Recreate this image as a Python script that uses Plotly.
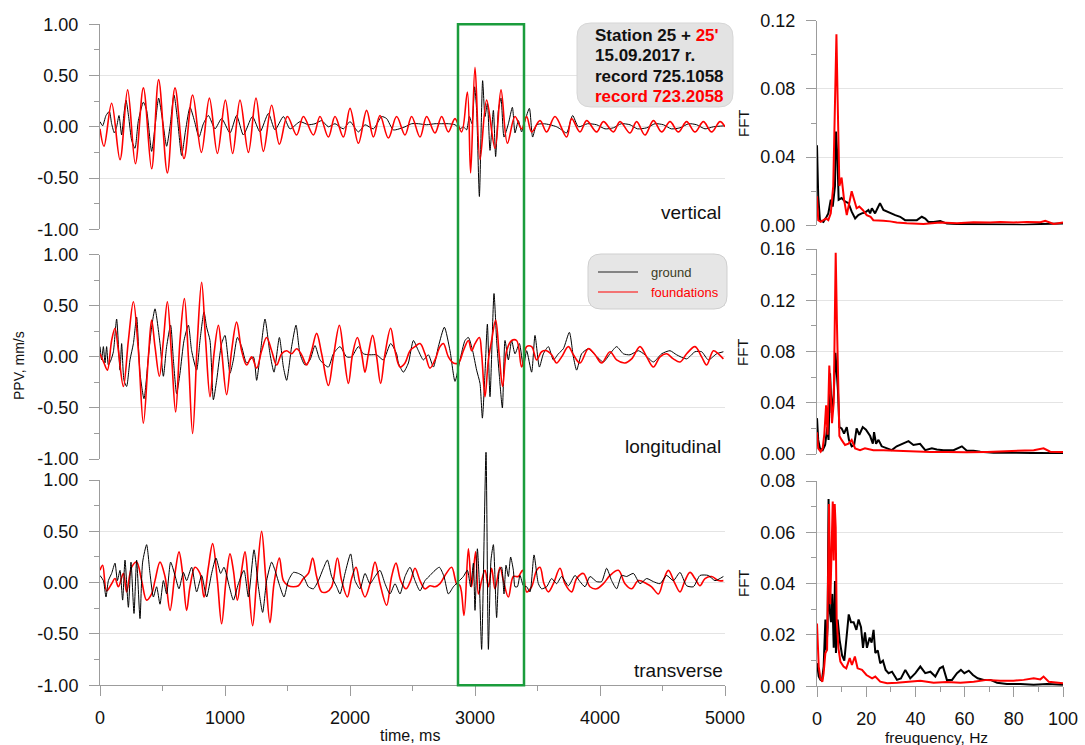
import plotly.graph_objects as go

# ---------------- data ----------------
# time series: (time in ms, PPV in mm/s)
VERT_GROUND = [(0,0.05),(21,0.01),(48,0.11),(75,0.15),(93,0.03),(115,-0.06),(133,0.0),(152,0.11),(173,-0.08),(192,0.13),(208,0.26),(229,0.10),(253,-0.13),(280,-0.21),(307,0.06),(347,0.24),(373,0.16),(413,-0.24),(440,0.0),(469,0.28),(501,0.06),(533,-0.19),(560,0.0),(592,0.31),(621,0.06),(653,-0.28),(685,-0.03),(720,0.19),(755,0.06),(792,-0.10),(827,0.03),(867,0.11),(920,-0.02),(973,0.08),(1040,-0.06),(1093,0.11),(1147,-0.08),(1219,0.10),(1280,-0.05),(1347,0.13),(1400,-0.03),(1467,0.10),(1520,-0.02),(1600,0.05),(1667,0.02),(1720,0.03),(1773,0.06),(1827,0.0),(1880,0.03),(1947,-0.02),(2000,0.05),(2067,-0.05),(2120,0.02),(2187,-0.02),(2253,0.10),(2293,0.08),(2347,-0.03),(2440,0.0),(2493,0.03),(2547,0.03),(2613,0.02),(2680,0.03),(2733,0.03),(2787,0.03),(2840,0.02),(2880,-0.02),(2907,0.0),(2933,-0.03),(2955,0.10),(2976,0.03),(2997,0.39),(3013,0.16),(3035,-0.68),(3061,0.45),(3080,0.10),(3099,0.23),(3120,-0.23),(3147,0.16),(3165,-0.29),(3187,0.16),(3208,0.28),(3232,-0.10),(3267,0.03),(3299,0.19),(3320,-0.06),(3347,0.06),(3373,-0.05),(3400,0.06),(3435,0.18),(3461,-0.10),(3493,0.02),(3547,0.03),(3600,0.02),(3653,0.0),(3693,-0.03),(3733,-0.06),(3781,0.11),(3827,0.0),(3900,0.03),(3973,0.02),(4040,-0.02),(4107,-0.01),(4170,0.03),(4240,0.02),(4300,-0.02),(4373,-0.01),(4440,0.03),(4507,0.02),(4570,-0.02),(4640,-0.01),(4710,0.03),(4773,0.02),(4840,-0.02),(4907,0.0),(5000,0.01)]
VERT_FOUND = [(0,-0.02),(32,-0.19),(93,0.23),(160,-0.32),(221,0.36),(283,-0.36),(347,0.38),(413,-0.41),(469,0.46),(539,-0.45),(600,0.38),(672,-0.31),(741,0.31),(811,-0.25),(875,0.28),(939,-0.26),(1003,0.26),(1061,-0.26),(1120,0.26),(1187,-0.25),(1248,0.28),(1307,-0.24),(1373,0.21),(1435,-0.17),(1499,0.10),(1573,-0.08),(1627,0.10),(1707,-0.08),(1760,0.10),(1827,-0.10),(1880,0.10),(1947,-0.10),(2000,0.18),(2067,-0.16),(2133,0.16),(2187,-0.10),(2240,0.11),(2307,-0.11),(2373,0.10),(2440,-0.08),(2493,0.10),(2560,-0.10),(2613,0.10),(2680,-0.06),(2733,0.10),(2787,-0.05),(2840,0.08),(2893,-0.05),(2939,0.34),(2965,-0.45),(3000,0.58),(3040,-0.32),(3093,0.26),(3160,-0.21),(3208,0.36),(3259,-0.16),(3320,0.10),(3373,-0.02),(3413,0.10),(3453,-0.05),(3520,0.06),(3573,-0.05),(3640,0.10),(3733,-0.10),(3773,0.08),(3840,-0.05),(3893,0.06),(3973,-0.05),(4027,0.05),(4107,-0.05),(4160,0.05),(4240,-0.06),(4293,0.05),(4360,-0.08),(4427,0.06),(4493,-0.05),(4560,0.05),(4627,-0.05),(4693,0.05),(4760,-0.05),(4827,0.05),(4893,-0.05),(4960,0.05),(5000,0.0)]
LONG_GROUND = [(0,0.10),(13,-0.03),(27,0.10),(40,-0.06),(53,0.10),(67,-0.08),(88,-0.03),(107,0.05),(133,0.37),(160,-0.13),(173,0.13),(192,-0.23),(213,-0.29),(240,-0.03),(267,0.13),(293,0.39),(320,-0.16),(352,-0.41),(387,0.0),(413,0.29),(440,0.47),(480,0.13),(507,-0.19),(533,0.10),(565,0.31),(587,-0.03),(613,-0.36),(640,-0.16),(672,0.16),(707,0.31),(733,0.06),(773,-0.13),(800,0.16),(832,0.44),(853,0.29),(880,0.16),(907,-0.42),(933,-0.23),(973,0.13),(1000,0.21),(1040,-0.16),(1067,-0.03),(1099,0.19),(1133,0.10),(1173,-0.06),(1227,0.0),(1253,-0.23),(1285,0.06),(1320,0.37),(1360,0.03),(1392,-0.15),(1435,0.19),(1467,-0.10),(1493,-0.23),(1533,0.10),(1568,0.31),(1600,0.03),(1640,-0.08),(1680,-0.03),(1720,0.11),(1760,-0.03),(1827,-0.10),(1867,0.03),(1920,0.10),(1973,0.0),(2013,0.0),(2067,0.10),(2107,0.03),(2160,0.02),(2213,0.02),(2267,-0.03),(2325,0.13),(2373,0.03),(2387,-0.06),(2427,-0.15),(2467,-0.06),(2507,0.16),(2547,0.06),(2587,-0.03),(2627,0.02),(2667,-0.10),(2707,0.10),(2755,0.29),(2800,0.06),(2840,-0.24),(2880,-0.03),(2920,0.16),(2947,0.19),(2981,0.06),(3013,-0.13),(3040,-0.26),(3059,-0.60),(3080,-0.16),(3099,0.32),(3120,-0.39),(3152,0.62),(3173,0.16),(3195,-0.19),(3219,-0.50),(3240,0.16),(3267,-0.03),(3293,0.16),(3320,0.03),(3355,0.13),(3387,-0.10),(3413,0.06),(3453,-0.15),(3480,0.21),(3515,-0.10),(3547,0.03),(3587,0.10),(3627,-0.03),(3667,0.03),(3707,0.08),(3755,0.24),(3787,0.0),(3813,-0.13),(3853,0.03),(3907,0.08),(3960,0.02),(4027,-0.05),(4080,0.03),(4133,0.10),(4187,0.03),(4240,0.02),(4307,0.06),(4360,0.02),(4427,-0.05),(4493,0.03),(4560,0.06),(4613,0.02),(4693,-0.02),(4760,0.05),(4813,0.05),(4867,-0.03),(4933,0.03),(4987,0.05)]
LONG_FOUND = [(0,0.03),(32,-0.06),(59,-0.13),(93,0.16),(120,0.28),(147,0.06),(187,-0.29),(227,0.16),(267,0.54),(307,0.06),(347,-0.65),(387,0.0),(413,0.36),(440,0.10),(475,-0.19),(507,0.16),(539,0.54),(573,0.0),(605,-0.54),(640,0.16),(675,0.57),(707,0.0),(741,-0.75),(779,0.16),(813,0.73),(845,0.16),(880,-0.39),(912,0.03),(947,0.31),(973,0.06),(1013,-0.37),(1053,0.06),(1093,0.34),(1133,0.06),(1173,-0.08),(1213,0.0),(1253,-0.11),(1293,0.06),(1333,0.19),(1373,0.06),(1413,-0.08),(1453,0.03),(1493,0.06),(1533,0.03),(1573,0.08),(1613,0.02),(1653,-0.08),(1693,0.06),(1733,0.23),(1773,0.03),(1827,-0.28),(1867,0.0),(1915,0.31),(1947,0.06),(1987,-0.26),(2021,0.03),(2059,0.19),(2093,0.03),(2120,-0.15),(2147,0.03),(2181,0.21),(2213,0.0),(2245,-0.26),(2280,0.03),(2325,0.28),(2360,0.06),(2400,-0.10),(2440,-0.06),(2480,0.06),(2520,0.10),(2560,0.13),(2600,0.03),(2640,-0.11),(2680,-0.03),(2720,0.10),(2747,0.13),(2787,0.0),(2827,-0.06),(2867,-0.06),(2907,0.06),(2947,0.16),(2973,0.06),(3000,0.13),(3035,0.19),(3053,0.03),(3080,-0.39),(3107,-0.03),(3133,0.16),(3165,0.36),(3195,0.0),(3221,-0.29),(3253,0.06),(3293,0.16),(3333,0.16),(3373,-0.10),(3413,0.10),(3453,0.10),(3493,-0.03),(3533,0.05),(3573,0.06),(3613,0.02),(3653,-0.06),(3693,0.0),(3747,0.10),(3787,0.02),(3840,-0.06),(3907,0.08),(3960,0.02),(4013,-0.06),(4080,0.05),(4133,-0.03),(4200,-0.06),(4253,-0.02),(4320,0.10),(4373,0.0),(4427,-0.10),(4480,0.0),(4533,0.03),(4587,-0.02),(4640,-0.05),(4693,0.03),(4760,0.10),(4813,0.0),(4853,-0.08),(4907,0.06),(4947,0.03),(4987,-0.02)]
TRANS_GROUND = [(0,0.07),(27,0.02),(48,-0.14),(67,0.02),(93,0.09),(120,0.19),(139,0.02),(160,0.12),(181,-0.17),(200,0.22),(227,-0.24),(248,0.20),(272,-0.30),(293,0.22),(320,-0.35),(341,0.20),(373,0.37),(400,0.09),(427,-0.14),(453,-0.04),(480,-0.21),(507,0.02),(533,-0.11),(565,0.20),(600,0.07),(632,-0.06),(667,0.10),(693,0.02),(733,0.15),(773,-0.09),(813,0.07),(853,-0.14),(893,0.09),(928,0.24),(965,0.09),(992,0.15),(1035,-0.04),(1067,-0.17),(1107,-0.01),(1152,0.12),(1187,-0.14),(1232,0.32),(1267,-0.04),(1301,-0.29),(1333,0.02),(1373,0.20),(1400,0.12),(1440,-0.04),(1472,-0.14),(1507,0.02),(1547,0.10),(1587,0.09),(1627,0.06),(1667,-0.04),(1707,-0.06),(1747,0.02),(1787,0.14),(1819,0.22),(1853,0.06),(1893,-0.04),(1920,-0.11),(1960,0.09),(2005,0.28),(2040,0.02),(2080,-0.06),(2120,0.09),(2160,-0.01),(2200,0.06),(2240,0.12),(2280,-0.01),(2320,-0.11),(2360,-0.01),(2400,-0.11),(2440,0.06),(2480,0.15),(2520,0.02),(2560,-0.08),(2600,0.02),(2640,0.07),(2680,0.12),(2715,0.15),(2752,0.06),(2787,-0.11),(2827,-0.04),(2867,0.01),(2907,0.06),(2939,0.12),(2965,-0.04),(2987,0.19),(3000,-0.27),(3019,0.33),(3035,-0.01),(3053,-0.65),(3088,1.27),(3107,-0.65),(3128,0.22),(3147,0.37),(3173,-0.34),(3195,0.12),(3213,0.15),(3232,-0.11),(3248,0.17),(3267,0.06),(3285,0.25),(3307,0.12),(3320,-0.04),(3339,-0.04),(3360,0.07),(3387,-0.03),(3413,-0.04),(3440,-0.09),(3472,0.27),(3507,-0.01),(3533,-0.06),(3573,-0.04),(3613,0.04),(3653,-0.01),(3693,0.06),(3747,-0.03),(3800,0.07),(3840,0.01),(3880,-0.04),(3920,0.06),(3973,0.01),(4013,0.01),(4053,0.14),(4093,0.02),(4133,-0.06),(4173,0.07),(4213,0.06),(4267,0.09),(4320,-0.01),(4373,0.04),(4427,0.01),(4480,-0.01),(4533,0.07),(4587,0.02),(4640,0.10),(4693,-0.03),(4747,-0.04),(4800,0.07),(4867,0.07),(4920,0.02),(4987,0.06)]
TRANS_FOUND = [(0,0.12),(21,0.17),(53,-0.08),(93,-0.01),(120,0.04),(147,-0.04),(187,0.09),(213,-0.09),(253,0.15),(293,0.20),(333,0.02),(373,-0.17),(413,-0.11),(440,0.02),(480,0.20),(520,0.06),(560,-0.27),(600,0.09),(632,0.30),(661,0.09),(693,-0.27),(720,-0.04),(760,0.15),(800,0.09),(832,-0.14),(867,0.15),(901,0.38),(939,0.02),(973,-0.40),(1008,0.02),(1040,0.28),(1067,0.12),(1099,-0.17),(1133,0.12),(1160,0.30),(1187,-0.01),(1221,-0.42),(1253,0.02),(1293,0.50),(1325,0.06),(1360,-0.39),(1392,-0.01),(1435,0.24),(1467,0.02),(1507,-0.03),(1547,-0.04),(1587,-0.03),(1627,0.04),(1667,0.09),(1701,0.24),(1733,0.06),(1773,-0.09),(1813,-0.09),(1853,-0.04),(1899,0.24),(1933,0.02),(1979,-0.14),(2013,0.04),(2048,0.15),(2080,-0.01),(2120,-0.14),(2160,-0.01),(2200,0.20),(2240,-0.01),(2293,-0.22),(2333,0.06),(2368,0.19),(2405,0.02),(2448,-0.06),(2485,0.02),(2520,0.14),(2560,0.02),(2600,-0.06),(2640,-0.03),(2680,-0.04),(2720,-0.01),(2760,0.07),(2813,0.15),(2853,-0.01),(2880,-0.03),(2912,-0.32),(2947,0.33),(2973,-0.04),(3005,0.30),(3027,-0.11),(3053,0.02),(3080,0.12),(3107,-0.04),(3133,0.14),(3160,-0.06),(3200,0.15),(3227,0.02),(3267,-0.14),(3307,0.06),(3347,0.06),(3381,0.12),(3413,-0.09),(3453,-0.04),(3493,0.12),(3520,0.15),(3552,-0.01),(3587,-0.09),(3627,-0.01),(3680,0.14),(3720,-0.01),(3773,-0.09),(3813,0.04),(3867,0.09),(3920,-0.04),(3973,-0.06),(4027,-0.01),(4080,0.07),(4147,0.12),(4200,-0.01),(4253,-0.06),(4307,0.02),(4373,-0.01),(4413,-0.04),(4467,-0.11),(4507,0.02),(4547,0.12),(4600,-0.01),(4640,-0.09),(4680,0.02),(4720,0.10),(4760,0.04),(4800,-0.03),(4840,0.04),(4893,0.06),(4947,0.02),(4987,0.02)]

# spectra: (frequency in Hz, FFT amplitude)
FFT_VERT_GROUND = [(0,0.047),(0.5,0.017),(1.2,0.003),(2.6,0.002),(3.9,0.005),(4.6,0.007),(5.6,0.015),(6.4,0.011),(7.3,0.023),(7.7,0.055),(8.3,0.040),(8.8,0.015),(10.0,0.016),(11.4,0.014),(12.8,0.013),(14.1,0.008),(15.5,0.004),(16.8,0.006),(18.2,0.007),(19.5,0.0075),(20.9,0.009),(21.6,0.007),(22.3,0.010),(23.6,0.007),(24.6,0.010),(25.6,0.013),(27.0,0.009),(28.4,0.008),(30.4,0.007),(31.8,0.006),(33.8,0.005),(35.8,0.003),(37.9,0.003),(40.6,0.003),(42.6,0.005),(44.0,0.004),(45.3,0.002),(47.4,0.002),(50.1,0.0025),(52.8,0.001),(56.9,0.0008),(63.6,0.0006),(70.4,0.0008),(77.2,0.0006),(84.0,0.0002),(90.8,0.0008),(96.2,0.001),(100,0.001)]
FFT_VERT_FOUND = [(0,0.017),(0.5,0.003),(1.5,0.002),(2.6,0.003),(3.7,0.004),(4.6,0.003),(5.6,0.007),(6.6,0.023),(7.5,0.083),(7.9,0.112),(8.4,0.073),(9.1,0.023),(10.0,0.028),(11.0,0.015),(12.1,0.006),(13.0,0.013),(14.1,0.020),(15.1,0.015),(16.1,0.010),(17.2,0.011),(18.6,0.009),(20.2,0.006),(21.8,0.005),(22.9,0.003),(24.3,0.003),(27.0,0.0027),(29.7,0.0023),(32.4,0.0016),(36.5,0.0012),(43.3,0.0008),(50.1,0.0016),(56.9,0.0012),(63.6,0.0018),(70.4,0.0016),(74.5,0.002),(79.9,0.0016),(85.3,0.002),(90.8,0.0018),(92.8,0.0027),(96.2,0.0008),(100,0.0016)]
FFT_LONG_GROUND = [(0,0.028),(0.5,0.011),(1.2,0.0044),(2.3,0.003),(3.3,0.007),(4.2,0.021),(4.7,0.011),(5.3,0.063),(6.0,0.032),(6.8,0.047),(7.5,0.079),(8.0,0.066),(8.5,0.050),(9.1,0.021),(10.0,0.020),(11.0,0.016),(12.1,0.021),(13.0,0.011),(14.1,0.006),(15.1,0.007),(16.1,0.020),(17.2,0.015),(18.6,0.021),(19.9,0.019),(21.6,0.014),(22.7,0.008),(23.2,0.017),(24.0,0.008),(25.0,0.011),(26.3,0.006),(28.4,0.0044),(30.4,0.003),(32.4,0.006),(35.1,0.008),(37.2,0.010),(39.2,0.007),(41.9,0.008),(44.0,0.003),(46.7,0.0044),(48.7,0.0036),(51.4,0.003),(55.5,0.003),(58.9,0.006),(60.9,0.0026),(63.6,0.0026),(66.4,0.0018),(71.8,0.001),(77.2,0.001),(84.0,0.001),(90.8,0.0005),(100,0.0005)]
FFT_LONG_FOUND = [(0,0.017),(0.5,0.0044),(1.5,0.0018),(2.3,0.0044),(3.0,0.016),(3.7,0.038),(4.3,0.015),(5.0,0.069),(5.6,0.045),(6.1,0.024),(6.8,0.040),(7.2,0.089),(7.6,0.157),(8.1,0.102),(8.7,0.032),(9.1,0.014),(10.0,0.011),(11.4,0.007),(12.8,0.008),(14.1,0.011),(15.5,0.0044),(17.5,0.003),(19.5,0.0044),(22.9,0.003),(27.0,0.003),(32.4,0.0026),(39.2,0.0018),(46.0,0.0016),(52.8,0.0016),(60.9,0.0013),(69.1,0.0016),(77.2,0.002),(84.0,0.0026),(88.1,0.003),(92.1,0.0044),(94.8,0.0018),(100,0.0016)]
FFT_TRANS_GROUND = [(0,0.009),(0.7,0.0038),(1.4,0.0025),(2.0,0.0022),(2.7,0.0077),(3.4,0.026),(3.8,0.014),(4.3,0.023),(4.7,0.073),(5.1,0.030),(5.7,0.025),(6.2,0.036),(6.8,0.015),(7.3,0.041),(7.7,0.013),(8.4,0.026),(9.2,0.018),(10.2,0.012),(11.1,0.010),(11.9,0.019),(12.9,0.028),(13.8,0.025),(14.9,0.025),(16.0,0.022),(16.9,0.026),(17.9,0.023),(18.7,0.015),(19.5,0.021),(20.3,0.015),(21.4,0.019),(22.2,0.017),(23.0,0.022),(23.7,0.013),(24.7,0.014),(25.7,0.009),(26.8,0.010),(27.9,0.0064),(29.1,0.0051),(30.5,0.0057),(32.5,0.0025),(34.1,0.0031),(35.9,0.0064),(37.9,0.0031),(40.0,0.0051),(42.0,0.0077),(44.0,0.0051),(46.1,0.0057),(48.1,0.0038),(49.9,0.0070),(51.2,0.0077),(52.8,0.0025),(54.9,0.0025),(56.9,0.0051),(58.5,0.0064),(59.9,0.0051),(61.7,0.0061),(63.4,0.0044),(65.3,0.0031),(67.8,0.0025),(70.5,0.0025),(73.2,0.0014),(77.2,0.0009),(82.7,0.0009),(88.1,0.0006),(93.5,0.0009),(100,0.0006)]
FFT_TRANS_FOUND = [(0,0.0245),(0.7,0.0077),(1.4,0.0031),(2.2,0.0018),(2.7,0.0051),(3.4,0.0129),(4.1,0.0142),(4.5,0.049),(4.9,0.071),(5.4,0.032),(6.0,0.056),(6.4,0.072),(6.8,0.049),(7.2,0.071),(7.6,0.062),(8.0,0.026),(8.7,0.015),(9.5,0.0096),(10.8,0.0077),(11.9,0.007),(13.3,0.011),(14.2,0.0083),(15.4,0.0116),(16.5,0.007),(18.3,0.0064),(20.1,0.0044),(22.4,0.0031),(23.7,0.0038),(25.7,0.0018),(28.5,0.0012),(32.5,0.0014),(36.6,0.0018),(42.0,0.0022),(47.4,0.0014),(52.8,0.0017),(58.3,0.0014),(63.7,0.0018),(69.1,0.0025),(74.5,0.0022),(79.9,0.0022),(84.0,0.0025),(88.1,0.0031),(90.8,0.0027),(92.1,0.0038),(94.2,0.0018),(100,0.0012)]

COMPONENTS = ["vertical", "longitudinal", "transverse"]
TIME_SERIES = [(VERT_GROUND, VERT_FOUND), (LONG_GROUND, LONG_FOUND), (TRANS_GROUND, TRANS_FOUND)]
SPECTRA = [(FFT_VERT_GROUND, FFT_VERT_FOUND), (FFT_LONG_GROUND, FFT_LONG_FOUND), (FFT_TRANS_GROUND, FFT_TRANS_FOUND)]
SERIES_NAMES = ["ground", "foundations"]

PPV_TICKS = [-1.0, -0.5, 0.0, 0.5, 1.0]
PPV_TICKTEXT = ["-1.00", "-0.50", "0.00", "0.50", "1.00"]
PPV_MINOR = [-0.75, -0.25, 0.25, 0.75]
TIME_TICKS = [0, 1000, 2000, 3000, 4000, 5000]
TIME_TICKTEXT = ["0", "1000", "2000", "3000", "4000", "5000"]
TIME_MINOR = [500, 1500, 2500, 3500, 4500]
FREQ_TICKS = [0, 20, 40, 60, 80, 100]
FREQ_MINOR = [10, 30, 50, 70, 90]
FFT_RANGES = [0.12, 0.16, 0.08]
FFT_TICKS = [[0.0, 0.04, 0.08, 0.12], [0.0, 0.04, 0.08, 0.12, 0.16], [0.0, 0.02, 0.04, 0.06, 0.08]]
FFT_MINOR = [[0.02, 0.06, 0.10], [0.02, 0.06, 0.10, 0.14], [0.01, 0.03, 0.05, 0.07]]
WINDOW_MS = [2864, 3392]   # highlighted time window

INFO_LINES = ["<b>Station 25 + <span style='color:#ff0000'>25'</span></b>",
              "<b>15.09.2017 r.</b>",
              "<b>record 725.1058</b>",
              "<b><span style='color:#ff0000'>record 723.2058</span></b>"]

# ---------------- layout geometry (pixels) ----------------
W, H = 1085, 745
LEFT_X = (100, 725)
RIGHT_X = (817, 1063)
LEFT_Y = [(24.3, 229.3), (254.7, 459.0), (480.0, 685.3)]
RIGHT_Y = [(20.7, 225.3), (249.0, 454.0), (481.0, 686.3)]
SPIKE_TOP = 446.0  # bottom panel trace may overshoot upward to here

FONT = 'Arial, "Liberation Sans", sans-serif'
GRID = '#e4e4e4'
AXC = '#9c9c9c'
RED = '#ff0000'
BLACK = '#000000'


def px(x):
    return x / W


def py(y):
    return 1 - y / H


def dom_x(a):
    return [px(a[0]), px(a[1])]


def dom_y(a):
    return [py(a[1]), py(a[0])]


def sfx(n):
    return '' if n == 1 else str(n)


def rounded(x0, y0, x1, y1, r):
    pts = lambda x, y: f"{px(x):.5f},{py(y):.5f}"
    return (f"M {pts(x0 + r, y0)} L {pts(x1 - r, y0)} Q {pts(x1, y0)} {pts(x1, y0 + r)} "
            f"L {pts(x1, y1 - r)} Q {pts(x1, y1)} {pts(x1 - r, y1)} L {pts(x0 + r, y1)} "
            f"Q {pts(x0, y1)} {pts(x0, y1 - r)} L {pts(x0, y0 + r)} Q {pts(x0, y0)} {pts(x0 + r, y0)} Z")


fig = go.Figure()
layout = {}

# ---------------- time-series panels (axes 1..3) and spectra (4..6) ----------------
for i in range(3):
    n = i + 1
    m = i + 4
    ground, found = TIME_SERIES[i]
    g_ax = 7 if i == 2 else n
    fig.add_trace(go.Scatter(x=[p[0] for p in ground], y=[p[1] for p in ground], mode='lines',
                             name=SERIES_NAMES[0],
                             line=dict(color=BLACK, width=1, shape='spline', smoothing=0.6),
                             xaxis='x' + sfx(g_ax), yaxis='y' + sfx(g_ax)))
    fig.add_trace(go.Scatter(x=[p[0] for p in found], y=[p[1] for p in found], mode='lines',
                             name=SERIES_NAMES[1],
                             line=dict(color=RED, width=1.6, shape='spline', smoothing=1.0),
                             xaxis='x' + sfx(n), yaxis='y' + sfx(n)))
    fg, ff = SPECTRA[i]
    fig.add_trace(go.Scatter(x=[p[0] for p in fg], y=[p[1] for p in fg], mode='lines',
                             name=SERIES_NAMES[0], line=dict(color=BLACK, width=2),
                             xaxis='x' + sfx(m), yaxis='y' + sfx(m)))
    fig.add_trace(go.Scatter(x=[p[0] for p in ff], y=[p[1] for p in ff], mode='lines',
                             name=SERIES_NAMES[1], line=dict(color=RED, width=2),
                             xaxis='x' + sfx(m), yaxis='y' + sfx(m)))

    bottom = (i == 2)
    # left x axis
    xa = dict(domain=dom_x(LEFT_X), range=[0, 5000], anchor='y' + sfx(n), automargin=False,
              fixedrange=True)
    if bottom:
        xa.update(showline=True, linecolor=AXC, linewidth=1, ticks='outside', ticklen=10,
                  tickcolor=AXC, tickmode='array', tickvals=TIME_TICKS, ticktext=TIME_TICKTEXT,
                  showgrid=False, zeroline=False, tickfont=dict(size=18, color='#111'),
                  ticklabelstandoff=6,
                  minor=dict(tickmode='array', tickvals=TIME_MINOR, ticks='outside', ticklen=5,
                             tickcolor=AXC, showgrid=False))
    else:
        xa.update(visible=False)
    layout['xaxis' + sfx(n)] = xa
    # left y axis
    layout['yaxis' + sfx(n)] = dict(
        domain=dom_y(LEFT_Y[i]), range=[-1, 1], anchor='x' + sfx(n), automargin=False,
        fixedrange=True, tickmode='array', tickvals=PPV_TICKS, ticktext=PPV_TICKTEXT,
        ticks='outside', ticklen=10, tickcolor=AXC, showline=True, linecolor=AXC, linewidth=1,
        showgrid=True, gridcolor=GRID, gridwidth=1, zeroline=False,
        tickfont=dict(size=18, color='#111'), ticklabelstandoff=7,
        minor=dict(tickmode='array', tickvals=PPV_MINOR, ticks='outside', ticklen=5,
                   tickcolor=AXC, showgrid=False))
    # right x axis
    fxa = dict(domain=dom_x(RIGHT_X), range=[0, 100], anchor='y' + sfx(m), automargin=False,
               fixedrange=True)
    if bottom:
        fxa.update(showline=True, linecolor=AXC, linewidth=1, ticks='outside', ticklen=10,
                   tickcolor=AXC, tickmode='array', tickvals=FREQ_TICKS,
                   ticktext=[str(v) for v in FREQ_TICKS], showgrid=False, zeroline=False,
                   tickfont=dict(size=18, color='#111'), ticklabelstandoff=6,
                   minor=dict(tickmode='array', tickvals=FREQ_MINOR, ticks='outside', ticklen=5,
                              tickcolor=AXC, showgrid=False))
    else:
        fxa.update(visible=False)
    layout['xaxis' + sfx(m)] = fxa
    # right y axis
    layout['yaxis' + sfx(m)] = dict(
        domain=dom_y(RIGHT_Y[i]), range=[0, FFT_RANGES[i]], anchor='x' + sfx(m), automargin=False,
        fixedrange=True, tickmode='array', tickvals=FFT_TICKS[i],
        ticktext=[f"{v:.2f}" for v in FFT_TICKS[i]],
        ticks='outside', ticklen=10, tickcolor=AXC, showline=True, linecolor=AXC, linewidth=1,
        showgrid=True, gridcolor=GRID, gridwidth=1, zeroline=False,
        tickfont=dict(size=18, color='#111'), ticklabelstandoff=7,
        minor=dict(tickmode='array', tickvals=FFT_MINOR[i], ticks='outside', ticklen=5,
                   tickcolor=AXC, showgrid=False))

# overflow axes for the bottom ground trace (same scale as bottom panel, taller clip area)
bot_top, bot_bot = LEFT_Y[2]
unit_px = (bot_bot - bot_top) / 2.0
layout['xaxis7'] = dict(domain=dom_x(LEFT_X), range=[0, 5000], anchor='y7', visible=False,
                        fixedrange=True)
layout['yaxis7'] = dict(domain=[py(bot_bot), py(SPIKE_TOP)],
                        range=[-1, -1 + (bot_bot - SPIKE_TOP) / unit_px], anchor='x7',
                        visible=False, fixedrange=True)

# ---------------- shapes ----------------
shapes = []
shapes.append(dict(type='rect', xref='x3', yref='paper', x0=WINDOW_MS[0], x1=WINDOW_MS[1],
                   y0=py(LEFT_Y[2][1]), y1=py(LEFT_Y[0][0]),
                   line=dict(color='#1a9c3c', width=2.5), fillcolor='rgba(0,0,0,0)', layer='above'))
shapes.append(dict(type='path', xref='paper', yref='paper', path=rounded(577, 23, 733, 107, 14),
                   fillcolor='#e3e3e3', line=dict(color='#d6d6d6', width=1), layer='above'))
shapes.append(dict(type='path', xref='paper', yref='paper', path=rounded(588, 254, 727, 309, 13),
                   fillcolor='#e6e6e6', line=dict(color='#cfcfcf', width=1), layer='above'))
shapes.append(dict(type='line', xref='paper', yref='paper', x0=px(598), x1=px(638),
                   y0=py(272), y1=py(272), line=dict(color='#222222', width=1), layer='above'))
shapes.append(dict(type='line', xref='paper', yref='paper', x0=px(598), x1=px(638),
                   y0=py(292), y1=py(292), line=dict(color=RED, width=1), layer='above'))

# ---------------- annotations ----------------
ann = []
for txt, yy in zip(INFO_LINES, [35, 56, 76.5, 97]):
    ann.append(dict(xref='paper', yref='paper', x=px(593), y=py(yy), xanchor='left',
                    yanchor='middle', text=txt, showarrow=False,
                    font=dict(size=17, color='#111', family=FONT)))
ann.append(dict(xref='paper', yref='paper', x=px(649), y=py(272.5), xanchor='left', yanchor='middle',
                text=SERIES_NAMES[0], showarrow=False, font=dict(size=13, color='#3c3c1e', family=FONT)))
ann.append(dict(xref='paper', yref='paper', x=px(649), y=py(292.5), xanchor='left', yanchor='middle',
                text=SERIES_NAMES[1], showarrow=False, font=dict(size=13, color=RED, family=FONT)))
for name, (xx, yy) in zip(COMPONENTS, [(723, 213), (723, 446), (725, 670)]):
    ann.append(dict(xref='paper', yref='paper', x=px(xx), y=py(yy), xanchor='right', yanchor='middle',
                    text=name, showarrow=False, font=dict(size=19, color='#111', family=FONT)))
for yy in [123, 352, 583]:
    ann.append(dict(xref='paper', yref='paper', x=px(743), y=py(yy), xanchor='center',
                    yanchor='middle', text='FFT', textangle=-90, showarrow=False,
                    font=dict(size=15, color='#111', family=FONT)))
ann.append(dict(xref='paper', yref='paper', x=px(19), y=py(366), xanchor='center', yanchor='middle',
                text='PPV, mm/s', textangle=-90, showarrow=False,
                font=dict(size=14, color='#111', family=FONT)))
ann.append(dict(xref='paper', yref='paper', x=px(410), y=py(735), xanchor='center', yanchor='middle',
                text='time, ms', showarrow=False, font=dict(size=16, color='#111', family=FONT)))
ann.append(dict(xref='paper', yref='paper', x=px(936), y=py(737), xanchor='center', yanchor='middle',
                text='freuquency, Hz', showarrow=False, font=dict(size=15.5, color='#111', family=FONT)))

fig.update_layout(width=W, height=H, margin=dict(l=0, r=0, t=0, b=0, pad=0),
                  paper_bgcolor='white', plot_bgcolor='rgba(0,0,0,0)', showlegend=False,
                  font=dict(family=FONT, color='#111'), shapes=shapes, annotations=ann,
                  hovermode=False, **layout)

fig.write_html("out.html")
